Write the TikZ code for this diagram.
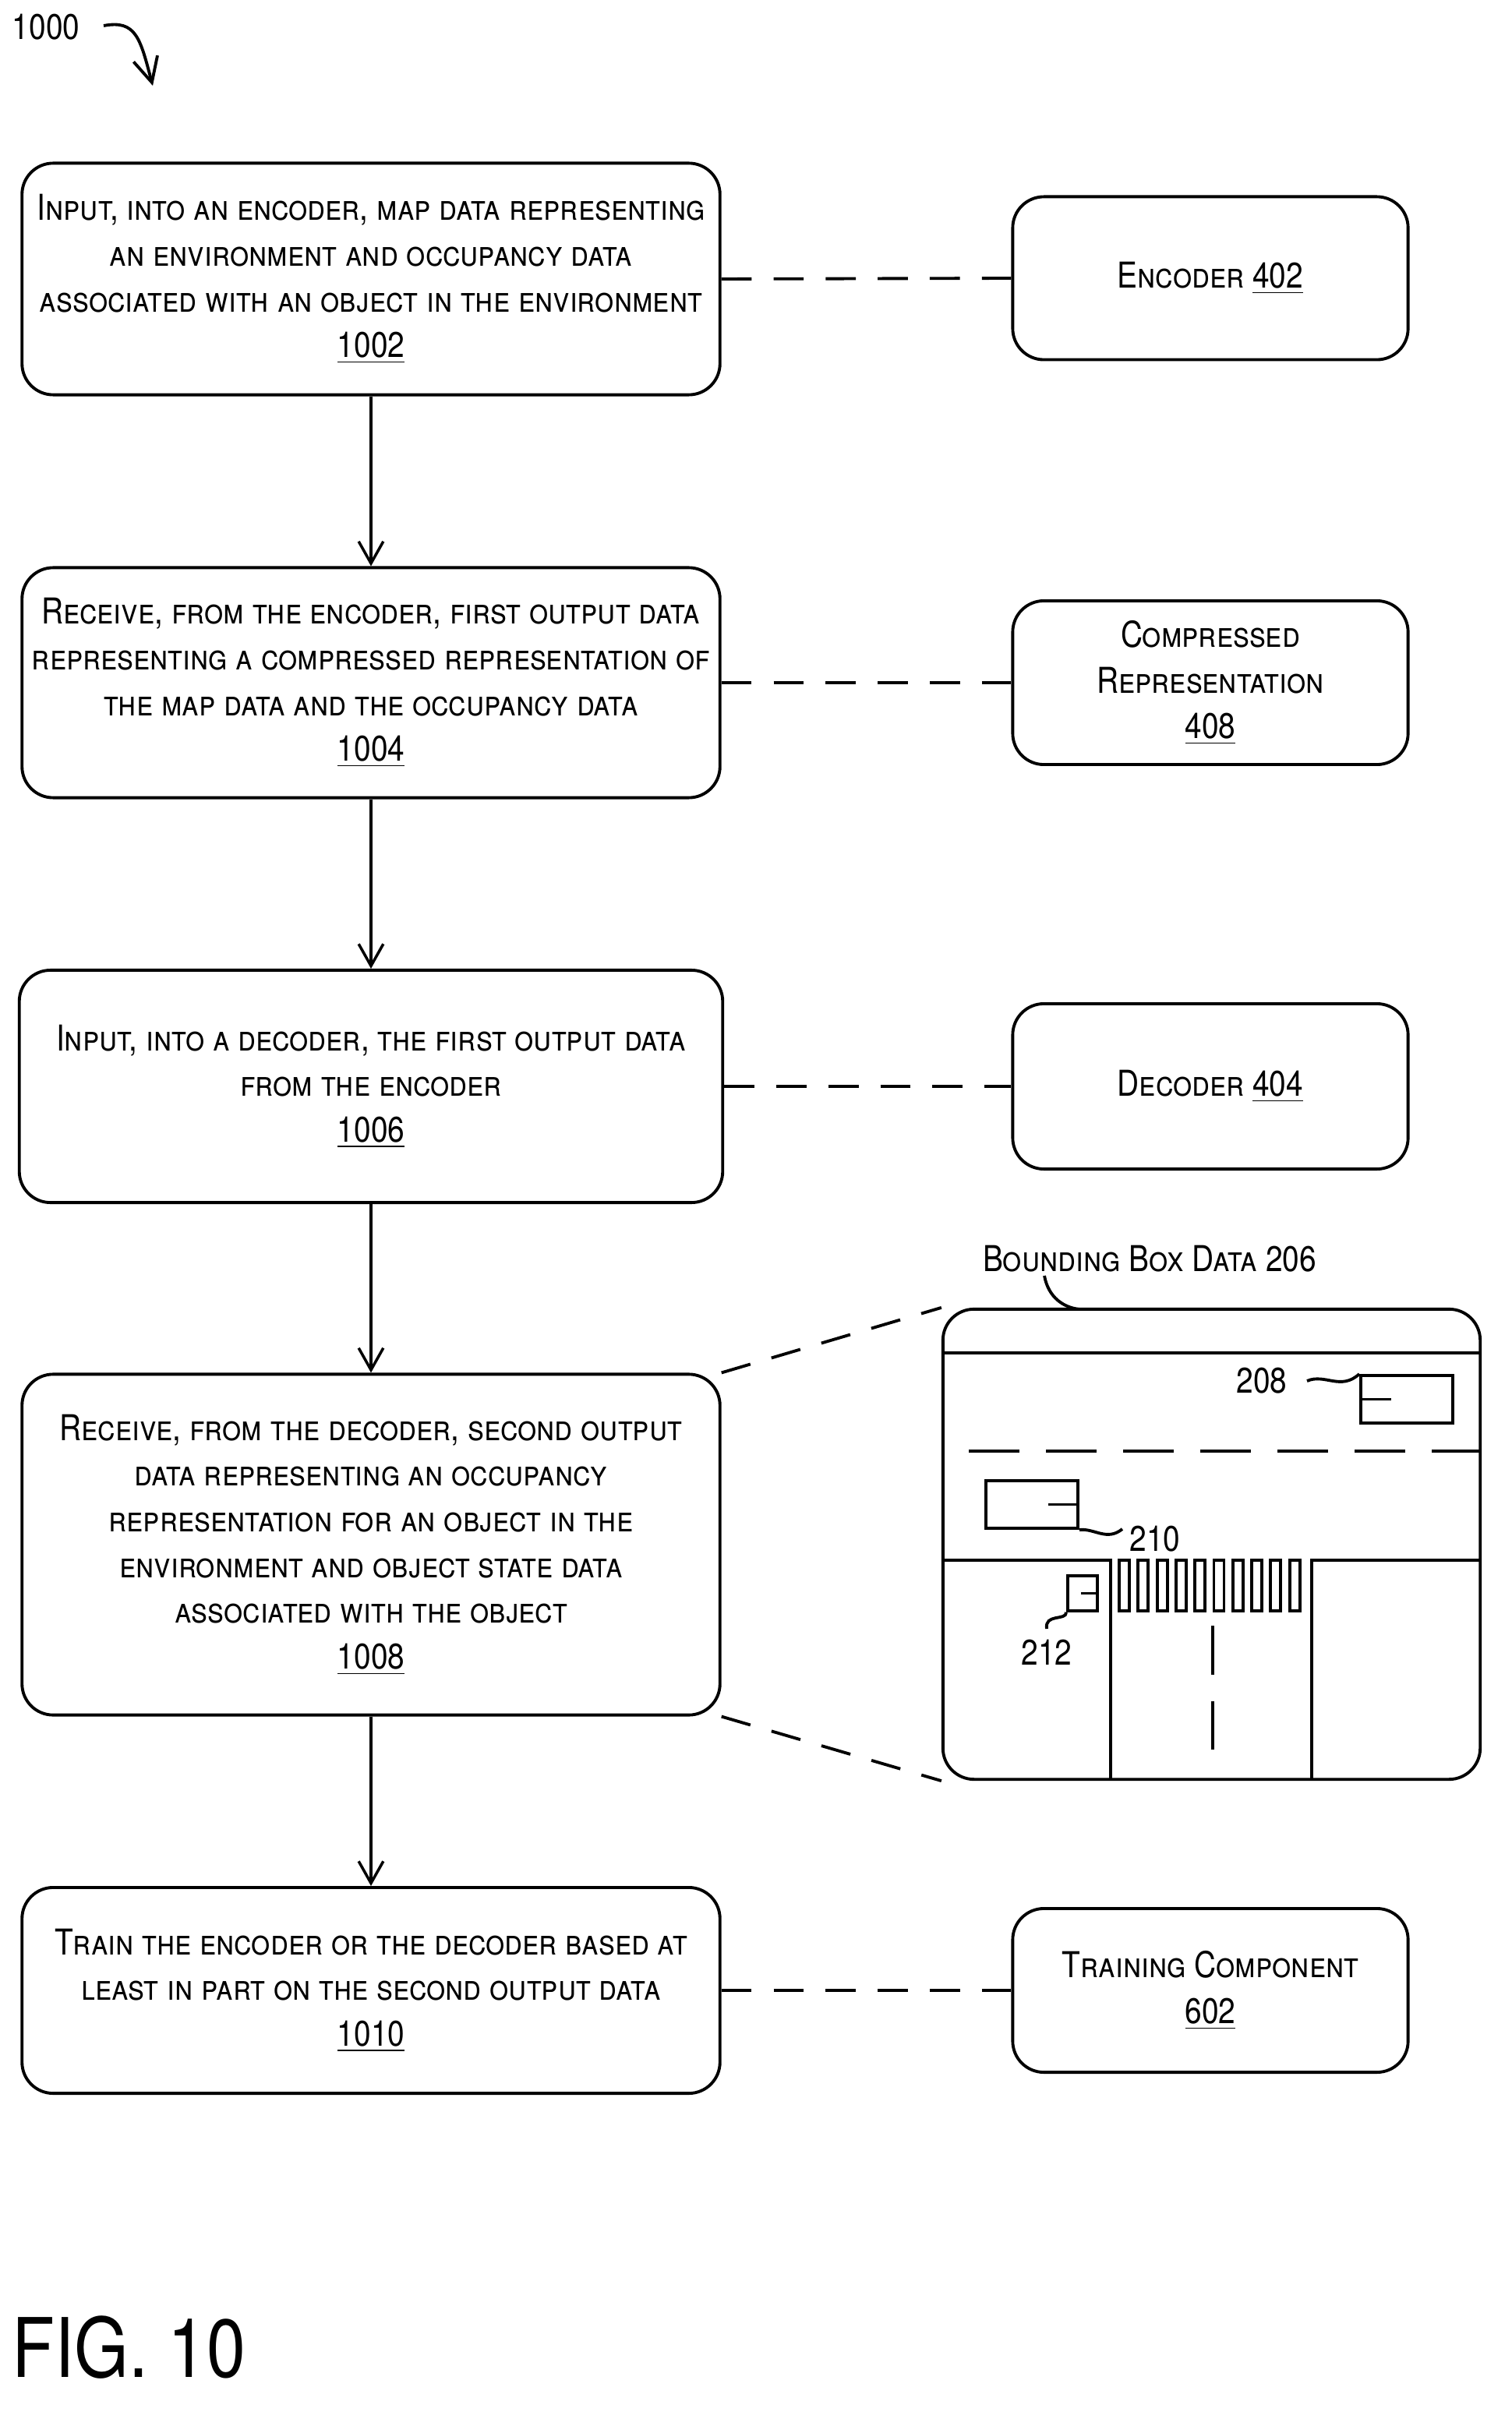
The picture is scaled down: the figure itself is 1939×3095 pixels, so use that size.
\documentclass[tikz,border=0pt]{standalone}
\usepackage{fontspec}
\setmainfont{TeX Gyre Heros}[FakeStretch=0.85]
\usetikzlibrary{arrows.meta}
\newcommand{\ul}[1]{\underline{#1}}
\begin{document}
\begin{tikzpicture}[x=0.01cm,y=-0.01cm,line width=1.1pt,
  box/.style={draw,rounded corners=0.4cm,align=center,inner sep=0pt,font=\fontsize{13}{16.7}\selectfont},
  lb/.style={inner sep=0pt,font=\fontsize{13}{16.7}\selectfont},
  arr/.style={-{Straight Barb[length=8pt,width=9pt]},line width=1pt},
  dsh/.style={dash pattern=on 11pt off 8pt}]
\useasboundingbox (0,0) rectangle (1939,3095);
\node[lb,anchor=west] (n1000) at (14,35) {1000};
\coordinate (a1000) at (196,110);
\draw[-{Straight Barb[length=9pt,width=9pt]}] (133,33) .. controls (175,25) and (180,50) .. (a1000);
\node[box,minimum width=8.95cm,minimum height=2.97cm] (b1) at (476,358) {\textsc{Input, into an encoder, map data representing}\\\textsc{an environment and occupancy data}\\\textsc{associated with an object in the environment}\\\ul{1002}};
\node[box,minimum width=8.95cm,minimum height=2.95cm] (b2) at (476,876) {\textsc{Receive, from the encoder, first output data}\\\textsc{representing a compressed representation of}\\\textsc{the map data and the occupancy data}\\\ul{1004}};
\node[box,minimum width=9.02cm,minimum height=2.98cm] (b3) at (476,1394) {\textsc{Input, into a decoder, the first output data}\\\textsc{from the encoder}\\\ul{1006}};
\node[box,minimum width=8.95cm,minimum height=4.37cm] (b4) at (476,1982) {\textsc{Receive, from the decoder, second output}\\\textsc{data representing an occupancy}\\\textsc{representation for an object in the}\\\textsc{environment and object state data}\\\textsc{associated with the object}\\\ul{1008}};
\node[box,minimum width=8.95cm,minimum height=2.64cm] (b5) at (476,2554) {\textsc{Train the encoder or the decoder based at}\\\textsc{least in part on the second output data}\\\ul{1010}};
\node[box,minimum width=5.07cm,minimum height=2.09cm] (r1) at (1553,357) {\textsc{Encoder} \ul{402}};
\node[box,minimum width=5.07cm,minimum height=2.10cm] (r2) at (1553,876) {\textsc{Compressed}\\\textsc{Representation}\\\ul{408}};
\node[box,minimum width=5.07cm,minimum height=2.12cm] (r3) at (1553,1394) {\textsc{Decoder} \ul{404}};
\node[box,minimum width=5.07cm,minimum height=2.10cm] (r5) at (1553,2554) {\textsc{Training Component}\\\ul{602}};
\foreach \a/\b in {b1/b2,b2/b3,b3/b4,b4/b5} \draw[arr] (\a.south) -- (\b.north);
\foreach \a/\b in {b1/r1,b2/r2,b3/r3,b5/r5} \draw[dsh] (\a.east) -- (\b.west);
% bounding box data picture
\node[draw,rounded corners=0.4cm,minimum width=6.89cm,minimum height=6.03cm,inner sep=0pt] (bb) at (1554.5,1981.5) {};
\draw[dsh] (b4.north east) -- (bb.north west);
\draw[dsh] (b4.south east) -- (bb.south west);
\node[lb] (t206) at (1475,1615) {\textsc{Bounding Box Data} 206};
\draw (1340,1637) .. controls (1345,1665) and (1365,1678) .. (1385,1680);
\draw (1210,1736) -- (1899,1736);
\draw[dash pattern=on 0.65cm off 0.34cm] (1243,1862) -- (1899,1862);
\draw (1210,2002) -- (1425,2002) -- (1425,2283);
\draw (1899,2002) -- (1683,2002) -- (1683,2283);
\foreach \i in {0,...,9} \draw (1436+24.3*\i,2002) rectangle (1449+24.3*\i,2067);
\draw (1556,2086) -- (1556,2149);
\draw (1556,2183) -- (1556,2245);
% 208
\node[draw,minimum width=1.18cm,minimum height=0.61cm,inner sep=0pt] (o208) at (1805,1795.5) {};
\draw (o208.west) -- (1785,1795.5);
\node[lb] (l208) at (1619,1772) {208};
\draw (1677,1772) .. controls (1700,1762) and (1720,1785) .. (o208.north west) ;
% 210
\node[draw,minimum width=1.18cm,minimum height=0.61cm,inner sep=0pt] (o210) at (1324,1930.5) {};
\draw (o210.east) -- (1345,1930.5);
\node[lb] (l210) at (1482,1975) {210};
\draw (o210.south east) .. controls (1405,1961) and (1420,1978) .. (1440,1962);
% 212
\node[draw,minimum width=0.38cm,minimum height=0.45cm,inner sep=0pt] (o212) at (1389,2044.5) {};
\draw (o212.east) -- (1387,2044.5);
\node[lb] (l212) at (1343,2120) {212};
\draw (o212.south west) .. controls (1368,2080) and (1340,2070) .. (1343,2090);
\node[anchor=west,inner sep=0pt,font=\fontsize{30}{30}\selectfont] (fig) at (14,3012) {FIG. 10};
\end{tikzpicture}
\end{document}
